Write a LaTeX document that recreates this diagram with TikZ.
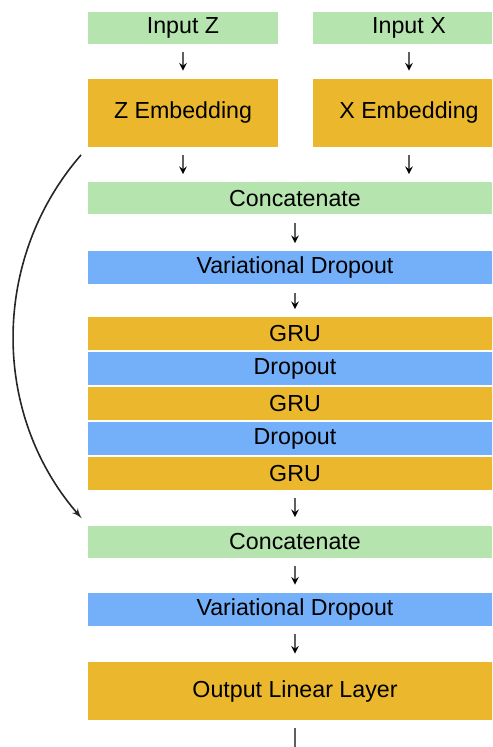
\documentclass[tikz,border=0pt]{standalone}
\usepackage{fontspec}
\setmainfont{Liberation Sans}
\usepackage{tikz}
\usetikzlibrary{shapes.geometric, arrows}
\definecolor{boxgreen}{RGB}{182,228,175}
\definecolor{boxorange}{RGB}{234,183,45}
\definecolor{boxblue}{RGB}{116,176,250}
\definecolor{arrowgray}{RGB}{95,95,95}
\tikzset{
  layer/.style={
    rectangle,
    inner sep=0pt,
    align=center,
    font=\fontsize{11.6}{13}\selectfont
    },
  inputbox/.style={
    layer,
    fill=boxgreen,
    minimum height=16pt
    },
  embedbox/.style={
    layer,
    fill=boxorange,
    minimum height=34pt
    },
  dropbox/.style={
    layer,
    fill=boxblue,
    minimum width=207pt,
    minimum height=16.5pt
    },
  grubox/.style={
    layer,
    fill=boxorange,
    minimum width=207pt,
    minimum height=16.5pt
    },
  flow/.style={
    ->,
    draw=arrowgray,
    line width=0.7pt,
    shorten >=4pt,
    shorten <=4pt
    },
  skip/.style={
    -latex',
    draw=black!85,
    line width=0.8pt,
    shorten <=5pt,
    shorten >=4.5pt
    },
}

\begin{document}
\begin{tikzpicture}[
            x = 0.5pt, y = -0.5pt, % one unit per pixel, y going down
            > = stealth % arrow head style
        ]
         \clip (0,0) rectangle (492,747);

         % inputs and embeddings
         \node[inputbox, minimum width=95pt] (inz) at (183,28) {Input Z};
         \node[inputbox, minimum width=96pt] (inx) at (409,28) {Input X};
         \node[embedbox, minimum width=95pt] (zemb) at (183,113) {Z Embedding};
         \node[embedbox, minimum width=96pt] (xemb) at (409,113) {X Embedding};

         % recurrent stack
         \node[inputbox, minimum width=207pt] (cat1) at (295,198.5) {Concatenate};
         \node[dropbox] (vd1) at (295,268) {Variational Dropout};
         \node[grubox] (gru1) at (295,334) {GRU};
         \node[dropbox] (drop1) at (295,369) {Dropout};
         \node[grubox] (gru2) at (295,403.5) {GRU};
         \node[dropbox] (drop2) at (295,438.5) {Dropout};
         \node[grubox] (gru3) at (295,473.5) {GRU};

         % output part
         \node[inputbox, minimum width=207pt] (cat2) at (295,541.5) {Concatenate};
         \node[dropbox] (vd2) at (295,609.5) {Variational Dropout};
         \node[embedbox, minimum width=207pt, minimum height=29pt] (out) at (295,691) {Output Linear Layer};
         \coordinate (outend) at (295,765);

         \path[flow] (inz) edge (zemb);
         \path[flow] (inx) edge (xemb);
         \path[flow] (zemb) edge (zemb |- cat1.north);
         \path[flow] (xemb) edge (xemb |- cat1.north);
         \path[flow] (cat1) edge (vd1);
         \path[flow] (vd1) edge (gru1);
         \path[flow] (gru3) edge (cat2);
         \path[flow] (cat2) edge (vd2);
         \path[flow] (vd2) edge (out);
         \path[flow] (out) edge (outend);

         \draw[skip] (zemb.south west) to[bend right=41] (cat2.north west);
  \end{tikzpicture}
\end{document}
